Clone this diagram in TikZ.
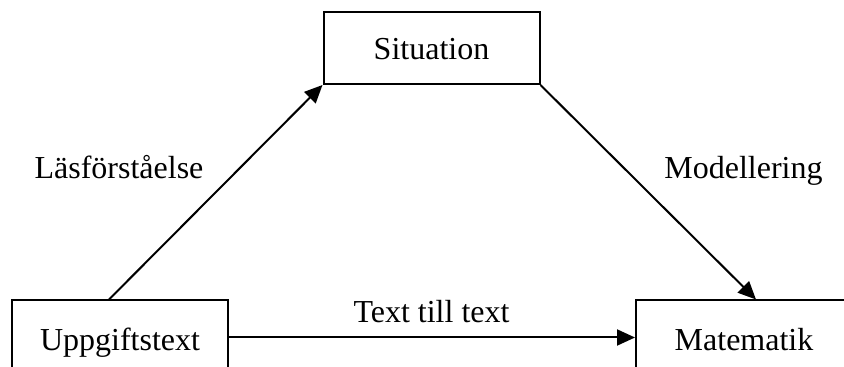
\documentclass[tikz,border=0pt]{standalone}
\usepackage{fontspec}
\setmainfont{Liberation Serif}
\usetikzlibrary{arrows.meta}
\tikzset{
  box/.style={draw, line width=1pt, minimum width=108pt, minimum height=36pt,
    inner sep=0pt, text height=15pt, text depth=3pt, font=\fontsize{16}{19}\selectfont},
  lbl/.style={inner sep=0pt, anchor=base, font=\fontsize{16}{19}\selectfont},
  arr/.style={line width=1pt, -{Triangle[length=9pt,width=8pt]}}
}
\begin{document}
\begin{tikzpicture}[x=0.5pt,y=-0.5pt]
\useasboundingbox (0,0) rectangle (844,367);
\clip (0,0) rectangle (844,367);
\node[box] (S) at (431.5,48) {Situation};
\node[box, minimum height=38pt] (U) at (120,338.5) {Uppgiftstext};
\node[box, minimum height=38pt] (M) at (744,338.5) {Matematik};
\draw[arr] ([xshift=-5.5pt]U.north) -- (S.south west);
\draw[arr] (S.south east) -- ([xshift=6pt]M.north);
\draw[arr] ([yshift=0.5pt]U.east) -- ([yshift=0.5pt]M.west);
\node[lbl] (l1) at (119,179) {Läsförståelse};
\node[lbl] (l2) at (743.5,179) {Modellering};
\node[lbl] (l3) at (431.5,323) {Text till text};
\end{tikzpicture}
\end{document}
